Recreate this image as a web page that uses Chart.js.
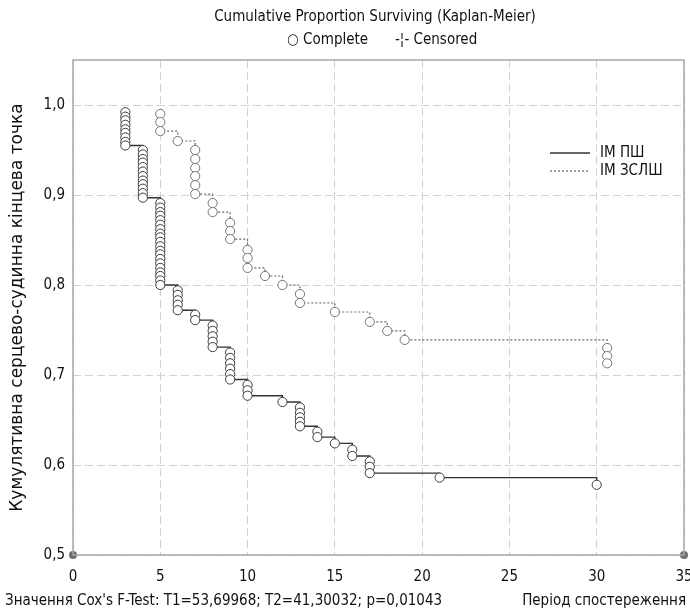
<!DOCTYPE html>
<html>
<head>
<meta charset="utf-8">
<script src="https://cdn.jsdelivr.net/npm/chart.js@4.4.1/dist/chart.umd.min.js"></script>
<style>
  html, body { margin: 0; padding: 0; background: #fff; }
  #wrap { width: 690px; height: 613px; position: relative; }
</style>
</head>
<body>
<div id="wrap"><canvas id="km"></canvas></div>
<script>
// ІМ ПШ: one entry per event (time, cumulative proportion surviving)
var ipshTime = [3,3,3,3,3,3,3,3,3,
  4,4,4,4,4,4,4,4,4,4,4,4,
  5,5,5,5,5,5,5,5,5,5,5,5,5,5,5,5,5,5,5,5,
  6,6,6,6,6, 7,7, 8,8,8,8,8, 9,9,9,9,9,9, 10,10,10,
  12, 13,13,13,13,13, 14,14, 15, 16,16, 17,17,17, 21, 30];
var ipshSurv = [0.992,0.987,0.983,0.978,0.973,0.969,0.964,0.959,0.955,
  0.950,0.945,0.940,0.936,0.931,0.926,0.921,0.916,0.912,0.907,0.902,0.897,
  0.891,0.886,0.881,0.877,0.872,0.867,0.862,0.857,0.853,0.848,0.843,0.838,0.834,0.829,0.824,0.819,0.814,0.810,0.805,0.800,
  0.794,0.789,0.783,0.778,0.772, 0.767,0.761, 0.755,0.749,0.743,0.737,0.731,
  0.725,0.719,0.713,0.707,0.701,0.695, 0.689,0.683,0.677,
  0.670, 0.664,0.658,0.653,0.648,0.643, 0.637,0.631, 0.624, 0.617,0.610,
  0.604,0.598,0.591, 0.586, 0.578];

// ІМ ЗСЛШ
var izslshTime = [5,5,5, 6, 7,7,7,7,7,7, 8,8, 9,9,9, 10,10,10, 11, 12, 13,13, 15, 17, 18, 19, 30.6,30.6,30.6];
var izslshSurv = [0.990,0.981,0.971, 0.960, 0.950,0.940,0.930,0.921,0.911,0.901, 0.891,0.881,
  0.869,0.860,0.851, 0.839,0.830,0.819, 0.810, 0.800, 0.790,0.780, 0.770, 0.759, 0.749, 0.739,
  0.730,0.721,0.713];

var seriesNames = ['ІМ ПШ', 'ІМ ЗСЛШ'];
var xTicks = [0, 5, 10, 15, 20, 25, 30, 35];
var yTicks = [0.5, 0.6, 0.7, 0.8, 0.9, 1.0];
var cornerX = [0, 35];
var cornerY = [0.5, 0.5];

var FONT = "'Liberation Sans Narrow', 'DejaVu Sans Condensed', 'Roboto', sans-serif";

function toPoints(xs, ys) {
  return xs.map(function (x, i) { return { x: x, y: ys[i] }; });
}

var decorPlugin = {
  id: 'decor',
  afterDraw: function (chart) {
    var ctx = chart.ctx, a = chart.chartArea;
    ctx.save();
    // frame
    ctx.strokeStyle = '#a8a8a8';
    ctx.lineWidth = 1.5;
    ctx.strokeRect(a.left, a.top, a.right - a.left, a.bottom - a.top);

    ctx.fillStyle = '#111';
    ctx.font = '15px ' + FONT;
    ctx.textBaseline = 'middle';
    ctx.textAlign = 'center';
    ctx.fillText('Cumulative Proportion Surviving (Kaplan-Meier)', 375, 17);
    ctx.textAlign = 'left';
    ctx.fillText('○ Complete', 287, 40);
    ctx.fillText('-¦- Censored', 395, 40);

    // legend inside plot
    var ds = chart.data.datasets;
    [0, 1].forEach(function (i) {
      var y = 153 + i * 18;
      ctx.beginPath();
      ctx.strokeStyle = ds[i].borderColor;
      ctx.lineWidth = ds[i].borderWidth;
      ctx.setLineDash(ds[i].borderDash || []);
      ctx.moveTo(550, y);
      ctx.lineTo(590, y);
      ctx.stroke();
      ctx.setLineDash([]);
      ctx.fillStyle = '#111';
      ctx.fillText(ds[i].label, 600, y);
    });

    // bottom notes
    ctx.textAlign = 'left';
    ctx.fillText("Значення Cox's F-Test: T1=53,69968; T2=41,30032; p=0,01043", 5, 601);
    ctx.textAlign = 'right';
    ctx.fillText('Період спостереження', 686, 601);
    ctx.restore();
  }
};

new Chart(document.getElementById('km').getContext('2d'), {
  type: 'scatter',
  data: {
    datasets: [{
      label: seriesNames[0],
      data: toPoints(ipshTime, ipshSurv),
      showLine: true,
      stepped: true,
      borderColor: '#333',
      borderWidth: 1.4,
      pointRadius: 4.6,
      pointBorderWidth: 1,
      pointBorderColor: '#3c3c3c',
      pointBackgroundColor: '#fff',
      clip: false
    }, {
      label: seriesNames[1],
      data: toPoints(izslshTime, izslshSurv),
      showLine: true,
      stepped: true,
      borderColor: '#666',
      borderWidth: 1.2,
      borderDash: [2, 2],
      pointRadius: 4.6,
      pointBorderWidth: 1,
      pointBorderColor: '#777',
      pointBackgroundColor: '#fff',
      clip: false
    }, {
      label: 'corners',
      data: toPoints(cornerX, cornerY),
      showLine: false,
      pointRadius: 4,
      pointBorderWidth: 0,
      pointBackgroundColor: '#6e6e6e',
      clip: false
    }]
  },
  options: {
    responsive: true,
    maintainAspectRatio: false,
    animation: false,
    layout: { padding: { top: 60, right: 6, left: 0, bottom: 0 } },
    plugins: {
      legend: { display: false },
      tooltip: { enabled: false }
    },
    scales: {
      x: {
        type: 'linear',
        min: 0,
        max: 35,
        afterFit: function (s) { s.height = 58; s.paddingLeft = 0; s.paddingRight = 0; },
        afterBuildTicks: function (s) { s.ticks = xTicks.map(function (v) { return { value: v }; }); },
        grid: { color: '#d2d2d2', lineWidth: 1, drawTicks: false },
        border: { display: false, dash: [8, 4] },
        ticks: {
          padding: 13,
          color: '#111',
          font: { family: FONT, size: 15 }
        }
      },
      y: {
        type: 'linear',
        min: 0.5,
        max: 1.05,
        afterFit: function (s) { s.width = 73; },
        afterBuildTicks: function (s) { s.ticks = yTicks.map(function (v) { return { value: v }; }); },
        grid: { color: '#d2d2d2', lineWidth: 1, drawTicks: false },
        border: { display: false, dash: [8, 4] },
        ticks: {
          padding: 8,
          color: '#111',
          font: { family: FONT, size: 15 },
          callback: function (v) { return v.toFixed(1).replace('.', ','); }
        },
        title: {
          display: true,
          text: 'Кумулятивна серцево-судинна кінцева точка',
          color: '#111',
          font: { family: "'DejaVu Sans', sans-serif", size: 17 },
          padding: { top: 7, bottom: 0 }
        }
      }
    }
  },
  plugins: [decorPlugin]
});
</script>
</body>
</html>
